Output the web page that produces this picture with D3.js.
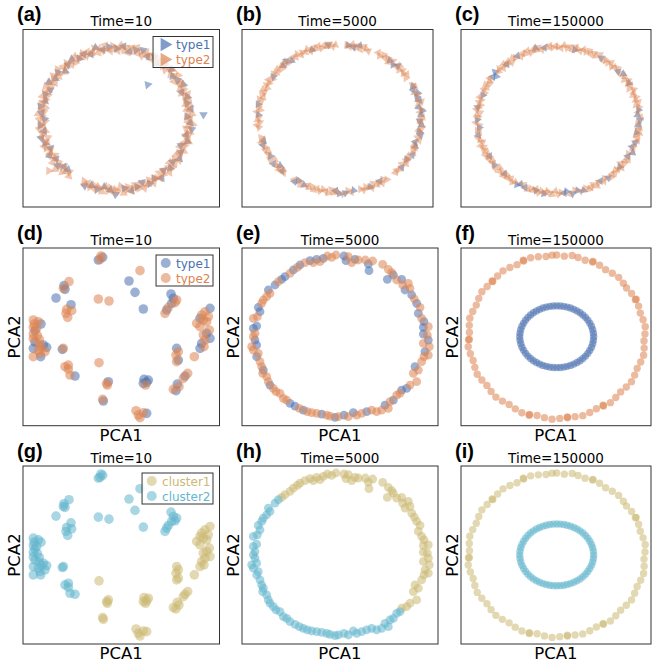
<!DOCTYPE html>
<html><head><meta charset="utf-8">
<script src="https://cdn.jsdelivr.net/npm/d3@7"></script>
<style>body{margin:0;background:#fff}svg{display:block}</style>
</head><body><svg id="chart" width="652" height="663"></svg>
<script>
// ---------------- DATA ----------------
const panelLabels = ["(a)","(b)","(c)","(d)","(e)","(f)","(g)","(h)","(i)"];
const timeLabels = ["Time=10","Time=5000","Time=150000"];
const typeNames = ["type1","type2"];
const clusterNames = ["cluster1","cluster2"];

// Row 1 (ring of triangles): [clock angle (deg), radius, optional heading (deg)]
const tri_t10_type1 = [[1,0.99],[6,1.03],[11,0.97],[16,1.01],[21,1.04],[26,0.98],[31,1.02],[36,0.96],[41,1.01],[42,0.65,200],[47,1.03],[52,0.98],[57,1.0],[62,1.04],[67,0.97],[72,1.02],[77,0.99],[82,1.03],[87,1.19,180],[88,0.97],[93,1.01],[98,1.04],[103,0.98],[108,1.02],[113,0.96],[118,1.0],[123,1.03],[128,0.98],[133,1.01],[138,0.97],[143,1.04],[148,0.99],[153,1.02],[158,0.96],[163,1.0],[168,1.03],[173,0.98],[180,1.06],[184,1.0],[189,0.97],[194,1.02],[199,0.99],[204,1.03],[222,0.96],[226,0.97,150],[230,1.02],[235,0.98],[240,1.03],[245,0.97],[250,1.01],[255,1.04],[260,0.98],[265,1.02],[270,0.96],[275,1.0],[280,1.03],[285,0.98],[290,1.01],[295,0.97],[300,1.04],[305,0.99],[310,1.02],[315,0.96],[320,1.0],[325,1.03],[330,0.98],[335,1.01],[340,0.97],[345,1.04],[350,0.99],[355,1.02]];
const tri_t10_type2 = [[0,1.00],[2,0.96],[4,1.04],[6,0.98],[8,1.02],[10,0.95],[12,1.03],[14,0.99],[16,1.05],[18,0.97],[20,1.01],[22,0.96],[24,1.03],[26,1.00],[28,0.98],[30,1.04],[32,0.97],[34,1.02],[36,0.99],[38,1.05],
[40,0.98],[42,1.03],[44,0.96],[46,1.01],[48,1.04],[50,0.97],[52,1.00],[54,1.05],[56,0.95],[58,1.02],[60,0.99],[62,1.03],[64,0.97],[66,1.01],[68,0.96],[70,1.04],[72,1.00],[74,0.98],[76,1.03],[78,0.97],
[80,1.02],[82,0.97],[84,1.00],[86,1.04],[88,0.96],[90,1.01],[92,0.98],[94,1.05],[96,0.99],[98,0.96],[100,1.03],[102,1.00],[104,0.97],[106,1.02],[108,1.04],[110,0.98],[112,1.01],[114,0.95],[116,1.03],[118,0.99],
[120,1.00],[122,0.96],[124,1.04],[126,0.98],[128,1.02],[130,0.95],[132,1.03],[134,0.99],[136,1.05],[138,0.97],[140,1.01],[142,0.96],[144,1.03],[146,1.00],[148,0.98],[150,1.04],[152,0.97],[154,1.02],[156,0.99],[158,1.05],
[160,0.98],[162,1.03],[164,0.96],[166,1.01],[168,1.04],[170,0.97],[172,1.00],[174,1.05],[176,0.95],[178,1.02],[180,0.99],[182,1.03],[184,0.97],[186,1.01],[188,0.96],[190,1.04],[192,1.00],[194,0.98],[196,1.03],[198,0.97],[200,1.02],[202,0.98],[204,1.01],[206,0.97],
[218,1.02],[220,0.97],[222,1.00],[224,1.04],[226,0.96],[228,1.01],[229,1.08],[231,1.16,330],[232,0.98],[234,1.05],[236,0.99],[238,0.96],[240,1.03],[242,1.00],[244,0.97],[246,1.02],[248,1.04],[250,0.98],[252,1.01],[254,0.95],[256,1.03],
[258,1.00],[260,0.96],[262,1.04],[264,0.98],[266,1.02],[268,0.95],[270,1.03],[272,0.99],[274,1.05],[276,0.97],[278,1.01],[280,0.96],[282,1.03],[284,1.00],[286,0.98],[288,1.04],[290,0.97],[292,1.02],[294,0.99],[296,1.05],
[298,0.98],[300,1.03],[302,0.96],[304,1.01],[306,1.04],[308,0.97],[310,1.00],[312,1.05],[314,0.95],[316,1.02],[318,0.99],[320,1.03],[322,0.97],[324,1.01],[326,0.96],[328,1.04],[330,1.00],[332,0.98],[334,1.03],[336,0.97],
[338,1.02],[340,0.97],[342,1.00],[344,1.04],[346,0.96],[348,1.01],[350,0.98],[352,1.05],[354,0.99],[356,0.96],[358,1.03]];

const tri_t5000_type1 = [[6,1.0],[10,0.98],[14,1.02],[38,1.0],[42,0.98],[45,1.01],[64,1.0],[67,0.98],[70,1.02],[73,0.99],[76,1.01],[81,0.98],[84,1.02],[87,1.0],[92,0.98],[95,1.01],[100,0.99],[103,1.02],[109,0.98],[112,1.0],[119,1.02],[124,0.99],[131,1.01],[150,0.98],[158,1.0],[170,0.99],[176,1.01],[180,1.02],[183,0.98],[206,1.0],[211,0.98],[213,1.02],[225,1.0],[229,0.97],[233,1.02],[239,0.99],[249,1.01],[252,0.98],[273,1.0],[281,1.02],[305,0.99],[316,1.0],[320,1.02],[323,0.98],[340,0.99],[352,1.01]];
const tri_t5000_type2 = [[5,1.0],[7,0.98],[9,1.02],[11,0.99],[13,1.01],[15,0.97],[17,1.02],[19,1.0],[21,0.98],
[28,1.01],[30,0.98],[32,1.02],[34,0.99],[36,1.01],[38,0.97],[40,1.02],[44,0.99],[46,1.03],[48,0.98],[50,1.01],[52,0.99],[54,1.02],[56,0.98],
[63,1.0],[65,1.02],[69,0.98],[71,1.01],[75,0.99],[77,1.03],[79,0.98],[83,1.01],[85,0.99],[89,1.02],[91,0.98],[93,1.0],[97,1.02],[99,0.98],[101,1.01],[105,0.99],[107,1.02],[111,0.98],[113,1.01],[115,0.99],[117,1.02],[121,0.98],[123,1.01],[125,0.99],[127,1.02],[129,0.98],[133,1.01],[135,0.99],[137,1.0],
[145,1.01],[147,0.98],[149,1.02],[151,0.99],[153,1.01],[155,0.97],[157,1.02],[159,1.0],[161,0.98],[163,1.01],[165,0.99],
[172,1.01],[174,0.98],[178,1.02],[182,0.99],[184,1.01],[186,0.97],[188,1.02],[190,1.0],[192,0.98],[194,1.01],[196,0.99],[198,1.02],[200,0.98],[202,1.01],[204,0.99],[208,1.02],[210,0.98],[214,1.0],
[223,1.01],[225,0.98],[227,1.02],[229,0.99],[231,1.01],[235,0.97],[237,1.02],[241,1.0],[243,0.98],[245,1.01],[247,0.99],[251,1.02],[253,0.98],[255,1.0],
[263,1.0],[265,1.02],[267,0.98],[269,1.01],[271,0.99],[275,1.02],[277,0.98],[279,1.01],[283,0.99],[285,1.02],[287,0.98],[289,1.01],[291,0.99],[293,1.02],[295,0.98],[297,1.01],[299,0.99],[301,1.02],[303,0.98],[307,1.01],[309,0.99],[311,1.02],[313,0.98],[315,1.01],[317,0.99],[319,1.02],[321,0.98],[325,1.01],[327,0.99],[329,1.02],[331,0.98],[333,1.01],[335,0.99],[337,1.02],[339,0.98],[341,1.01],[343,0.99],[345,1.02],[347,0.98],[349,1.01],[351,0.99],[353,1.02],[355,0.98],[357,1.0]];

const tri_t150000_type1 = [[12,0.98],[32,1.0],[48,0.99],[52,1.02],[60,1.01],[82,1.0],[86,0.98],[90,1.01],[94,0.99],[100,0.98],[108,1.0],[112,0.98],[116,1.02],[120,0.99],[130,0.99],[142,1.0],[148,0.98],[162,1.01],[166,0.99],[170,1.02],[174,0.98],[176,1.0],[190,1.02],[196,1.0],[204,1.01],[208,0.99],[210,1.02],[222,0.99],[232,1.0],[240,0.98],[258,1.01],[264,0.98],[270,1.0],[280,1.01],[290,0.99],[306,1.0],[308,0.97],[310,1.02],[320,0.99],[330,1.01],[344,1.02],[350,1.0]];
const tri_t150000_type2 = [[0,1.0],[2,0.98],[4,1.02],[6,0.99],[8,1.01],[10,0.97],[12,1.02],[14,1.0],[16,0.98],[18,1.01],[20,0.99],[22,1.02],[24,0.98],[26,1.01],[28,0.99],[30,1.03],[34,0.98],[36,1.01],[38,0.99],[40,1.02],[42,0.98],[44,1.0],[46,1.02],[50,0.99],[54,1.01],[56,0.98],[58,1.02],[60,0.99],[62,1.01],[64,0.97],[66,1.02],[68,1.0],[70,0.98],[72,1.01],[74,0.99],[76,1.02],[78,0.98],[80,1.01],[84,0.99],[88,1.02],[92,0.98],[96,1.01],[98,0.99],[100,1.02],[102,0.98],[104,1.0],[106,1.02],[110,0.99],[114,1.01],[118,0.98],[122,1.02],[124,0.99],[126,1.01],[128,0.97],[130,1.02],[132,1.0],[134,0.98],[136,1.01],[138,0.99],[140,1.02],[144,0.98],[146,1.01],[150,0.99],[152,1.02],[154,0.98],[156,1.0],[158,1.02],[160,0.99],[164,1.01],[168,0.98],[172,1.02],[178,0.99],[180,1.01],[182,0.97],[184,1.02],[186,1.0],[188,0.98],[190,1.01],[192,0.99],[194,1.02],[196,0.98],[198,1.01],[200,0.99],[202,1.02],[206,0.98],[212,1.0],[214,1.02],[216,0.99],[218,1.01],[220,0.98],[222,1.02],[224,0.99],[226,1.01],[228,0.97],[230,1.02],[234,1.0],[236,0.98],[238,1.01],[240,0.99],[242,1.02],[244,0.98],[246,1.01],[248,0.99],[250,1.02],[252,0.98],[254,1.0],[256,1.02],[260,0.99],[262,1.01],[266,0.98],[268,1.02],[272,0.99],[274,1.01],[276,0.97],[278,1.02],[280,1.0],[282,0.98],[284,1.01],[286,0.99],[288,1.02],[292,0.98],[294,1.01],[296,0.99],[298,1.02],[300,0.98],[302,1.0],[304,1.02],[312,0.99],[314,1.01],[316,0.98],[318,1.02],[320,0.99],[322,1.01],[324,0.97],[326,1.02],[328,1.0],[332,0.98],[334,1.01],[336,0.99],[338,1.02],[340,0.98],[342,1.01],[344,0.99],[346,1.02],[348,0.98],[352,1.0],[354,1.02],[356,0.99],[358,1.01]];

// Rows 2-3, Time=10: [PCA1, PCA2, type, cluster]
const pts_t10 = [
[-0.70,2.31,1,2],[-0.57,2.39,1,2],[-0.62,2.43,2,2],[-0.65,2.33,2,2],
[0.55,1.99,2,2],[0.22,1.68,1,2],[0.40,1.34,1,2],[0.65,0.84,1,2],
[-1.58,1.66,2,2],[-1.73,1.54,1,2],[-1.75,1.46,2,2],[-1.70,1.43,1,2],[-1.97,1.17,1,2],[-1.52,0.97,1,2],
[-1.65,0.83,2,2],[-1.50,0.79,2,2],[-1.67,0.71,2,2],[-1.62,0.59,2,2],[-0.70,1.14,2,2],[-0.38,1.08,2,2],
[1.48,1.29,1,2],[1.55,1.16,1,2],[1.65,1.11,2,2],[1.50,1.01,1,2],[1.40,0.89,2,2],[1.35,0.81,1,2],[1.30,0.71,2,2],[1.60,1.03,2,2],
[-2.65,0.51,2,2],[-2.62,0.39,2,2],[-2.50,0.46,2,2],[-2.42,0.39,1,2],[-2.65,0.29,2,2],[-2.60,0.19,1,2],[-2.65,0.09,2,2],[-2.53,0.05,2,2],
[-2.65,-0.05,2,2],[-2.60,-0.15,1,2],[-2.47,-0.21,2,2],[-2.40,-0.31,2,2],[-2.35,-0.24,1,2],[-2.50,-0.39,2,2],[-2.25,-0.31,1,2],[-2.45,-0.49,2,2],
[-2.43,-0.59,1,2],[-2.65,-0.59,2,2],[-2.30,-0.44,2,2],[-2.65,-0.34,1,2],[-2.55,0.26,2,2],[-2.47,-0.07,2,2],
[2.65,0.86,1,1],[2.50,0.76,2,1],[2.40,0.66,2,1],[2.35,0.56,1,1],[2.45,0.51,2,1],[2.55,0.46,2,1],[2.25,0.41,2,1],[2.35,0.31,2,1],
[2.63,0.21,2,1],[2.55,0.11,1,1],[2.45,0.06,2,1],[2.65,-0.04,1,1],[2.50,-0.09,2,1],[2.40,-0.19,1,1],[2.47,-0.29,2,1],[2.35,-0.34,1,1],[2.60,0.61,2,1],
[-1.78,-0.37,1,2],[-1.75,-0.34,2,2],
[1.65,-0.34,1,1],[1.70,-0.44,2,1],[1.63,-0.54,2,1],[1.70,-0.69,1,1],[1.65,-0.74,2,1],[2.18,-0.59,2,1],
[-1.70,-0.89,2,2],[-1.60,-0.84,2,2],[-1.60,-0.96,2,2],[-1.55,-1.14,2,2],[-1.40,-1.17,1,2],
[-0.68,-0.77,2,1],
[0.67,-1.27,1,1],[0.75,-1.36,1,1],[0.65,-1.39,1,1],[0.72,-1.44,2,1],[0.80,-1.29,1,1],
[-0.45,-1.39,2,1],[-0.40,-1.34,1,1],[-0.43,-1.44,2,1],
[1.98,-1.09,2,1],[1.90,-1.17,1,1],[1.85,-1.24,2,1],[1.67,-1.41,1,1],[1.72,-1.49,2,1],[1.55,-1.57,2,1],[1.63,-1.61,1,1],
[-0.57,-1.87,2,1],[-0.55,-1.92,1,1],
[0.43,-2.21,2,1],[0.50,-2.34,2,1],[0.65,-2.27,2,1],[0.75,-2.29,1,1],[0.55,-2.42,2,1]
];

// Rows 2-3, Time=5000: [PCA1, PCA2, type, cluster]
const pts_t5000 = [
[-1.20,2.15,1,1],[-0.90,2.28,1,1],[-0.70,2.32,1,1],[-0.50,2.35,1,1],[0.12,2.42,1,1],[0.18,2.28,1,1],[0.45,2.32,1,1],[0.85,2.18,1,1],
[0.87,1.98,1,1],[1.42,1.72,1,1],[1.60,1.85,1,1],[1.85,1.72,1,1],[1.95,1.40,1,1],[2.15,1.25,1,1],[2.30,1.00,1,1],[2.35,0.70,1,1],
[2.52,0.45,1,1],[2.50,0.28,1,1],[2.50,0.08,1,1],[2.65,-0.10,1,1],[2.55,-0.45,1,1],[2.25,-0.90,1,1],[2.00,-1.55,1,1],[1.85,-1.60,1,1],
[1.60,-1.90,1,2],[1.35,-2.05,1,2],[0.80,-2.25,1,2],[0.40,-2.28,1,2],[0.12,-2.35,1,2],[-0.15,-2.42,1,2],[-0.55,-2.32,1,2],[-1.10,-2.20,1,2],
[-1.35,-2.08,1,2],[-1.50,-2.00,1,2],[-2.10,-1.45,1,2],[-2.30,-1.00,1,2],[-2.50,-0.60,1,2],[-2.50,-0.25,1,2],[-2.55,-0.10,1,2],[-2.60,0.25,1,2],
[-2.50,0.32,1,2],[-2.40,0.75,1,2],[-2.45,0.88,1,2],[-2.15,1.40,1,2],[-1.95,1.55,1,2],[-1.75,1.72,1,1],[-1.65,1.80,1,1],[-1.40,2.00,1,1],
[-1.05,2.22,2,1],[-0.80,2.22,2,1],[-0.60,2.25,2,1],[-0.38,2.42,2,1],[-0.25,2.38,2,1],[-0.12,2.45,2,1],[0.25,2.40,2,1],[0.35,2.22,2,1],
[0.55,2.30,2,1],[0.76,2.30,2,1],[0.98,2.27,2,1],[1.28,2.17,2,1],[1.45,2.02,2,1],[1.55,1.92,2,1],[1.70,1.70,2,1],[1.88,1.55,2,1],
[2.05,1.60,2,1],[2.10,1.45,2,1],[2.23,1.13,2,1],[2.40,0.88,2,1],[2.45,0.55,2,1],[2.65,0.30,2,1],[2.62,0.05,2,1],[2.50,-0.20,2,1],
[2.68,-0.30,2,1],[2.65,-0.55,2,1],[2.52,-0.60,2,1],[2.45,-0.75,2,1],[2.35,-1.00,2,1],[2.20,-1.10,2,1],[2.30,-1.35,2,1],[2.10,-1.45,2,1],
[1.80,-1.70,2,2],[1.70,-1.75,2,2],[1.50,-1.95,2,2],[1.45,-2.15,2,2],[1.25,-2.20,2,2],[1.10,-2.25,2,2],[0.95,-2.20,2,2],[0.65,-2.30,2,2],
[0.50,-2.35,2,2],[0.25,-2.40,2,2],[-0.05,-2.40,2,2],[-0.30,-2.38,2,2],[-0.40,-2.35,2,2],[-0.70,-2.30,2,2],[-0.85,-2.28,2,2],[-0.98,-2.25,2,2],
[-1.22,-2.15,2,2],[-1.60,-1.90,2,2],[-1.70,-1.85,2,2],[-1.80,-1.70,2,2],[-1.92,-1.65,2,2],[-2.00,-1.55,2,2],[-2.15,-1.35,2,2],[-2.20,-1.20,2,2],
[-2.32,-1.10,2,2],[-2.35,-0.90,2,2],[-2.40,-0.75,2,2],[-2.45,-0.50,2,2],[-2.60,-0.40,2,2],[-2.65,-0.30,2,2],[-2.60,0.00,2,2],[-2.55,0.10,2,2],
[-2.60,0.55,2,2],[-2.48,0.60,2,2],[-2.35,1.00,2,2],[-2.30,1.10,2,2],[-2.20,1.20,2,2],[-2.10,1.30,2,2],[-1.85,1.65,2,2],[-1.50,1.90,2,1],[-1.28,2.08,2,1]
];

// Rows 2-3, Time=150000: rings as [clock angle (deg), radius]
// outer ring = type2 / cluster1, inner ring = type1 / cluster2
const ring_t150000_outer = [[0,1.0],[5,0.99],[10,1.01],[14,1.0],[19,0.99],[24,1.01],[24,1.0],[29,1.0],[34,0.99],[39,1.0],[44,1.01],[49,1.0],[53,0.99],[58,1.0],[63,1.01],[63,1.0],[68,1.0],[73,0.99],[78,1.0],[83,1.01],[88,1.0],[93,0.99],[98,1.0],[103,1.01],[108,1.0],[113,0.99],[118,1.0],[123,1.01],[128,1.0],[133,0.99],[138,1.0],[143,1.01],[148,1.0],[148,0.99],[153,0.99],[158,1.0],[163,1.01],[168,1.0],[173,0.99],[173,1.0],[178,1.0],[183,1.01],[188,1.0],[193,0.99],[198,1.0],[198,1.01],[203,1.01],[208,1.0],[213,0.99],[218,1.0],[223,1.01],[228,1.0],[233,0.99],[238,1.0],[243,1.01],[248,1.0],[253,0.99],[258,1.0],[263,1.01],[268,1.0],[268,0.99],[273,0.99],[278,1.0],[283,1.01],[288,1.0],[293,0.99],[298,1.0],[303,1.01],[308,1.0],[313,0.99],[313,1.0],[318,1.0],[323,1.01],[328,1.0],[333,0.99],[338,1.0],[338,1.01],[343,1.01],[348,1.0],[353,0.99],[357,1.0]];
const ring_t150000_inner = [[0,.378],[6,.378],[12,.380],[18,.381],[24,.384],[30,.387],[36,.391],[42,.395],[48,.399],[54,.403],[60,.407],[66,.410],[72,.414],[78,.416],[84,.418],[90,.419],[96,.418],[102,.417],[108,.414],[114,.410],[120,.407],[126,.403],[132,.399],[138,.395],[144,.391],[150,.387],[156,.384],[162,.381],[168,.380],[174,.378],[180,.378],[186,.378],[192,.380],[198,.381],[204,.384],[210,.387],[216,.391],[222,.395],[228,.399],[234,.403],[240,.407],[246,.410],[252,.414],[258,.416],[264,.418],[270,.419],[276,.418],[282,.417],[288,.414],[294,.410],[300,.407],[306,.403],[312,.399],[318,.395],[324,.391],[330,.387],[336,.384],[342,.381],[348,.380],[354,.378]];

// axis limits per panel (no ticks shown)
const xlim_row1 = [[-1.25,1.405],[-1.199,1.145],[-1.201,1.144]];
const ylim_row1 = [[-1.261,1.239],[-1.207,1.199],[-1.235,1.187]]; // radial y (down positive)
const xlim_t10 = [-2.96,2.935], ylim_t10 = [-2.66,2.67];
const xlim_t5000 = [-2.94,2.94], ylim_t5000 = [-2.67,2.66];
const xlim_t150000 = [-1.084,1.068], ylim_t150000 = [-1.086,1.089]; // radial y (down positive)

// ---------------- STYLE / LAYOUT ----------------
const C = {type1:"#4C72B0", type2:"#DD8452", cluster1:"#CCB974", cluster2:"#64B5CD"};
const FONT = "'DejaVu Sans', sans-serif";
const ROWS = [{y0:29.5,y1:207},{y0:248,y1:425.7},{y0:466,y1:644}];
const COLS = [{x0:23,x1:219.5},{x0:242,x1:438},{x0:461,x1:651}];
const LABEL_X = [17,236,455];
const HEAD_VAR = [0,180,35,215,-40,160,70];

const svg = d3.select("#chart");
const defs = svg.append("defs");
const rad = d => d[0]*Math.PI/180;

function boxFor(r,c){
  const b = {x0:COLS[c].x0, x1:COLS[c].x1, y0:ROWS[r].y0, y1:ROWS[r].y1};
  if (r===0 && c===1) b.x1 = 433;
  return b;
}

function drawPanel(r, c, layers, opts){
  const box = boxFor(r,c);
  const id = "clip"+r+c;
  defs.append("clipPath").attr("id",id).append("rect")
    .attr("x",box.x0).attr("y",box.y0).attr("width",box.x1-box.x0).attr("height",box.y1-box.y0);
  const x = d3.scaleLinear().domain(opts.xlim).range([box.x0,box.x1]);
  const y = d3.scaleLinear().domain(opts.ylim).range(opts.polar ? [box.y0,box.y1] : [box.y1,box.y0]);
  const g = svg.append("g").attr("clip-path",`url(#${id})`);
  layers.forEach(L=>{
    const pos = d => opts.polar ? d3.pointRadial(rad(d), d[1]) : [d[0], d[1]];
    if (L.marker==="tri"){
      const sym = d3.symbol().type(d3.symbolTriangle).size(L.size);
      g.selectAll(null).data(L.data).join("path")
        .attr("d", sym)
        .attr("transform", (d,i) => { const p=pos(d);
           const h = d[2]!==undefined ? d[2] : d[0]+90+HEAD_VAR[i%HEAD_VAR.length];
           return `translate(${x(p[0])},${y(p[1])}) rotate(${h})`; })
        .attr("fill", L.color).attr("fill-opacity", L.alpha);
    } else {
      g.selectAll(null).data(L.data).join("circle")
        .attr("cx", d => x(pos(d)[0])).attr("cy", d => y(pos(d)[1]))
        .attr("r", L.r).attr("fill", L.color).attr("fill-opacity", L.alpha);
    }
  });
  svg.append("rect").attr("x",box.x0).attr("y",box.y0).attr("width",box.x1-box.x0).attr("height",box.y1-box.y0)
    .attr("fill","none").attr("stroke","#333").attr("stroke-width",1);
  svg.append("text").attr("x",(box.x0+box.x1)/2).attr("y",box.y0-3.5).attr("text-anchor","middle")
    .attr("font-family",FONT).attr("font-size",13.5).attr("fill","#000").text(timeLabels[c]);
  svg.append("text").attr("x",LABEL_X[c]).attr("y",box.y0-8.5)
    .attr("font-family","'Liberation Sans', Arial, sans-serif").attr("font-weight","bold")
    .attr("font-size",20).attr("fill","#000").text(panelLabels[r*3+c]);
  if (opts.axisLabels){
    svg.append("text").attr("x",(box.x0+box.x1)/2).attr("y",box.y1+15).attr("text-anchor","middle")
      .attr("font-family",FONT).attr("font-size",16.5).attr("fill","#000").text("PCA1");
    svg.append("text").attr("transform",`translate(${box.x0-3.5},${(box.y0+box.y1)/2}) rotate(-90)`)
      .attr("text-anchor","middle").attr("font-family",FONT).attr("font-size",16.5).attr("fill","#000").text("PCA2");
  }
  if (opts.legend) drawLegend(box, opts.legend, layers[0].marker, layers[0].alpha);
}

function drawLegend(box, items, marker, alpha){
  const lg = svg.append("g");
  const top = box.y0 + 7;
  const mx = marker==="tri" ? 11.5 : 9.7, tx = marker==="tri" ? 23 : 20;
  const texts = items.map(it => lg.append("text").attr("font-family",FONT).attr("font-size",12)
      .attr("fill",it.color).text(it.text));
  const tw = d3.max(texts, t => t.node().getComputedTextLength());
  const w = tx + tw + 2.5, h = 31;
  const left = box.x1 - 6.5 - w;
  lg.insert("rect",":first-child").attr("x",left).attr("y",top).attr("width",w).attr("height",h)
    .attr("fill","#fff").attr("fill-opacity",0.8).attr("stroke","#333").attr("stroke-width",1);
  items.forEach((it,i)=>{
    const cy = top + 8 + i*15;
    if (marker==="tri"){
      lg.append("path").attr("d", d3.symbol().type(d3.symbolTriangle).size(80)())
        .attr("transform",`translate(${left+mx},${cy}) rotate(90)`).attr("fill",it.color).attr("fill-opacity",0.7);
    } else {
      lg.append("circle").attr("cx",left+mx).attr("cy",cy).attr("r",5).attr("fill",it.color).attr("fill-opacity",alpha);
    }
    texts[i].attr("x",left+tx).attr("y",cy+4.5);
  });
}

// ---------------- ROW 1 ----------------
const triSets = [[tri_t10_type1,tri_t10_type2],[tri_t5000_type1,tri_t5000_type2],[tri_t150000_type1,tri_t150000_type2]];
triSets.forEach((s,c)=>{
  drawPanel(0,c,[
    {data:s[0], marker:"tri", size:c===0?32:28, color:C.type1, alpha:0.55},
    {data:s[1], marker:"tri", size:c===0?32:28, color:C.type2, alpha:0.45}
  ], {polar:true, xlim:xlim_row1[c], ylim:ylim_row1[c],
      legend: c===0 ? [{text:typeNames[0],color:C.type1},{text:typeNames[1],color:C.type2}] : null});
});

// ---------------- ROW 2 (by type) & ROW 3 (by cluster) ----------------
const byType = (pts,t) => pts.filter(d=>d[2]===t);
const byCluster = (pts,k) => pts.filter(d=>d[3]===k);
const A = 0.56;

drawPanel(1,0,[
  {data:byType(pts_t10,1), color:C.type1, r:4.8, alpha:A},
  {data:byType(pts_t10,2), color:C.type2, r:4.8, alpha:A}
],{xlim:xlim_t10, ylim:ylim_t10, axisLabels:true,
   legend:[{text:typeNames[0],color:C.type1},{text:typeNames[1],color:C.type2}]});
drawPanel(1,1,[
  {data:byType(pts_t5000,1), color:C.type1, r:4.4, alpha:A},
  {data:byType(pts_t5000,2), color:C.type2, r:4.4, alpha:A}
],{xlim:xlim_t5000, ylim:ylim_t5000, axisLabels:true});
drawPanel(1,2,[
  {data:ring_t150000_inner, color:C.type1, r:3.7, alpha:A},
  {data:ring_t150000_outer, color:C.type2, r:3.7, alpha:A}
],{polar:true, xlim:xlim_t150000, ylim:ylim_t150000, axisLabels:true});

drawPanel(2,0,[
  {data:byCluster(pts_t10,1), color:C.cluster1, r:4.8, alpha:A},
  {data:byCluster(pts_t10,2), color:C.cluster2, r:4.8, alpha:A}
],{xlim:xlim_t10, ylim:ylim_t10, axisLabels:true,
   legend:[{text:clusterNames[0],color:C.cluster1},{text:clusterNames[1],color:C.cluster2}]});
drawPanel(2,1,[
  {data:byCluster(pts_t5000,1), color:C.cluster1, r:4.4, alpha:A},
  {data:byCluster(pts_t5000,2), color:C.cluster2, r:4.4, alpha:A}
],{xlim:xlim_t5000, ylim:ylim_t5000, axisLabels:true});
drawPanel(2,2,[
  {data:ring_t150000_outer, color:C.cluster1, r:3.7, alpha:A},
  {data:ring_t150000_inner, color:C.cluster2, r:3.7, alpha:A}
],{polar:true, xlim:xlim_t150000, ylim:ylim_t150000, axisLabels:true});
</script></body></html>
